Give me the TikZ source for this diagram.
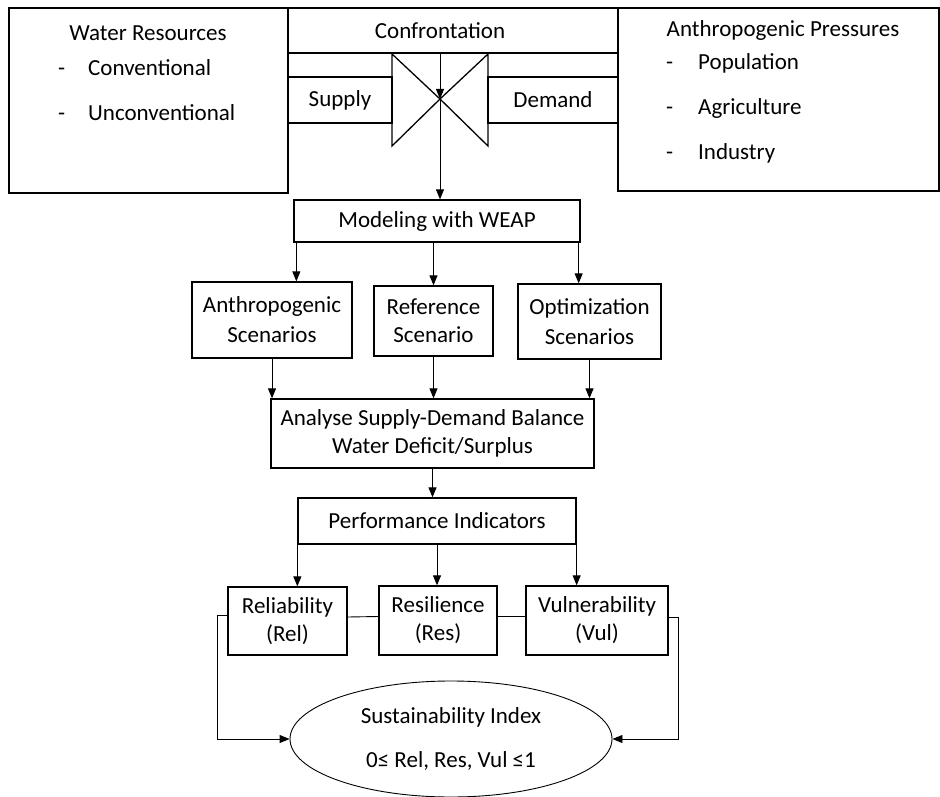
\documentclass[tikz,border=0pt]{standalone}
\usepackage{fontspec}
\setmainfont{Carlito}
\usetikzlibrary{arrows.meta, positioning, shapes.geometric, calc}
\newcommand{\dashitem}[2][28pt]{\makebox[#1][l]{-}#2}

\begin{document}
\begin{tikzpicture}[x=1pt, y=-1pt,
   box/.style={rectangle, draw=black, line width=1.3pt, inner sep=0pt,
               font=\fontsize{23}{28}\selectfont, align=center},
   txt/.style={inner sep=0pt, font=\fontsize{23}{28}\selectfont},
   itm/.style={txt, anchor=west},
   arr/.style={-{Triangle[length=10pt, width=8pt]}, line width=1pt},
   lnk/.style={line width=0.9pt}]

\useasboundingbox (0,0) rectangle (940,797);

% top row
\node[box, minimum width=279pt, minimum height=185pt] (wr) at (148.5,100.5) {};
\node[txt] (wrT) at (148,33) {Water Resources};
\node[itm] (wr1) at (58,68) {\dashitem[30pt]{Conventional}};
\node[itm] (wr2) at (58,113) {\dashitem[30pt]{Unconventional}};

\coordinate (cross) at (440,99);
\node[box, minimum width=330pt, minimum height=45pt] (conf) at (453,30.5) {};
\node[txt] (confT) at (cross |- conf) {Confrontation};
\node[box, minimum width=104pt, minimum height=46pt] (sup) at (340,100) {Supply};
\node[box, minimum width=130pt, minimum height=46pt] (dem) at (553,100) {Demand};
\draw[line width=1.3pt] (392,54) -- (392,146) -- (cross) -- cycle;
\draw[line width=1.3pt] (488,54) -- (488,146) -- (cross) -- cycle;

\node[box, minimum width=321pt, minimum height=183pt] (pr) at (778.5,99.5) {};
\node[txt] (prT) at (783,30) {Anthropogenic Pressures};
\node[itm] (pr1) at (666,63) {\dashitem[32pt]{Population}};
\node[itm] (pr2) at (666,108) {\dashitem[32pt]{Agriculture}};
\node[itm] (pr3) at (666,153) {\dashitem[32pt]{Industry}};

% modelling and scenarios
\node[box, minimum width=286pt, minimum height=42pt] (model) at (437,221) {Modeling with WEAP};
\node[box, minimum width=160pt, minimum height=76pt] (anth) at (272,320) {Anthropogenic\\[2pt]Scenarios};
\node[box, minimum width=119pt, minimum height=70pt] (ref) at (433.5,321) {Reference\\Scenario};
\node[box, minimum width=143pt, minimum height=75pt] (opt) at (589.5,321.5) {Optimization\\[2pt]Scenarios};
\node[box, minimum width=323pt, minimum height=69pt] (ana) at (432.5,433.5)
     {Analyse Supply-Demand Balance\\Water Deficit/Surplus};

% indicators
\node[box, minimum width=278pt, minimum height=46pt] (perf) at (437,521) {Performance Indicators};
\node[box, minimum width=119pt, minimum height=68pt] (rel) at (287.5,621) {Reliability\\(Rel)};
\node[box, minimum width=118pt, minimum height=69pt] (res) at (438,620.5) {Resilience\\(Res)};
\node[box, minimum width=142pt, minimum height=69pt] (vul) at (597,620.5) {Vulnerability\\(Vul)};
\node[box, ellipse, line width=0.9pt, minimum width=322pt, minimum height=116pt] (si) at (451,739)
     {Sustainability Index\\[16pt]0≤ Rel, Res, Vul ≤1};

% arrows
\draw[arr] (cross |- conf.south) -- (cross);
\draw[arr] (cross) -- (cross |- model.north);

\coordinate (mL) at ([xshift=3pt]model.south west);
\coordinate (mR) at ([xshift=-2pt]model.south east);
\draw[arr] (mL) -- (mL |- anth.north);
\draw[arr] (ref.north |- model.south) -- (ref.north);
\draw[arr] (mR) -- (mR |- opt.north);

\draw[arr] (anth.south) -- (anth.south |- ana.north);
\draw[arr] (ref.south) -- (ref.south |- ana.north);
\draw[arr] (opt.south) -- (opt.south |- ana.north);
\draw[arr] (ana.south) -- (ana.south |- perf.north);

\draw[arr] (perf.south west) -- (perf.south west |- rel.north);
\draw[arr] (perf.south) -- (perf.south |- res.north);
\draw[arr] (perf.south east) -- (perf.south east |- vul.north);

\draw[lnk] ([yshift=4pt]rel.east) -- ([yshift=4pt]res.west);
\draw[lnk] ([yshift=4pt]res.east) -- ([yshift=4pt]vul.west);
\draw[arr, lnk] ([yshift=6pt]rel.west) -- ++(-10,0) |- (si.west);
\draw[arr, lnk] ([yshift=3pt]vul.east) -- ++(10,0) |- (si.east);
\end{tikzpicture}
\end{document}
